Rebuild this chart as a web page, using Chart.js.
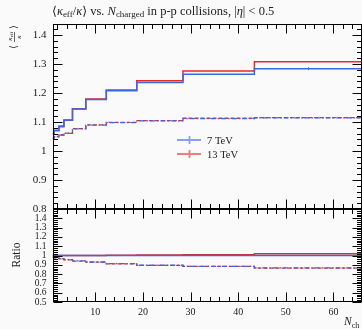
<!DOCTYPE html>
<html>
<head>
<meta charset="utf-8">
<script src="https://cdn.jsdelivr.net/npm/chart.js@4.4.0/dist/chart.umd.min.js"></script>
<style>
  html, body { margin: 0; padding: 0; background: #fafafa; }
  #wrap { position: relative; width: 362px; height: 329px; overflow: hidden; }
  canvas { position: absolute; left: 0; }
  #mainChart { top: 0; }
  #ratioChart { top: 205px; }
</style>
</head>
<body>
<div id="wrap">
  <canvas id="mainChart" width="362" height="222"></canvas>
  <canvas id="ratioChart" width="362" height="124"></canvas>
</div>
<script>
// Bin edges in N_ch
const binEdges = [1, 1.3, 2.35, 3.4, 5.2, 8.0, 12.3, 18.7, 28.4, 43.4, 66];

// <kappa_eff/kappa> per bin
const red13Solid  = [1.061, 1.072, 1.086, 1.107, 1.146, 1.179, 1.210, 1.242, 1.276, 1.308];
const blue7Solid  = [1.058, 1.070, 1.084, 1.106, 1.145, 1.178, 1.208, 1.236, 1.265, 1.284];
const red13Dashed = [1.044, 1.050, 1.056, 1.062, 1.077, 1.090, 1.099, 1.105, 1.113, 1.115];
const blue7Dashed = [1.042, 1.049, 1.055, 1.061, 1.076, 1.089, 1.098, 1.104, 1.112, 1.114];
const blue7Err    = [0, 0, 0, 0, 0, 0, 0, 0, 0, 0.005];

// Ratio panel
const ratioBlueSolid  = [1, 1, 1, 1, 1, 1, 1, 1, 1, 1];
const ratioRedSolid   = [1, 1, 1, 1, 1, 1.001, 1.002, 1.005, 1.009, 1.019];
const ratioRedDashed  = [0.983, 0.975, 0.965, 0.954, 0.940, 0.929, 0.910, 0.893, 0.882, 0.865];
const ratioBlueDashed = [0.983, 0.977, 0.967, 0.956, 0.942, 0.930, 0.912, 0.895, 0.883, 0.867];

// Tick labels
const xTicks = [10, 20, 30, 40, 50, 60];
const mainYTicks = [0.8, 0.9, 1.0, 1.1, 1.2, 1.3, 1.4];
const ratioYTicks = [0.5, 0.6, 0.7, 0.8, 0.9, 1.0, 1.1, 1.2, 1.3, 1.4];

const BLUE = '#3b66e4';
const RED = '#ea2920';
const SERIF = "'Liberation Serif', 'DejaVu Serif', serif";

Chart.defaults.font.family = SERIF;
Chart.defaults.color = '#222';

// turn per-bin values into step points
function steps(vals) {
    return binEdges.map((e, i) => ({ x: e, y: vals[Math.min(i, vals.length - 1)] }));
}

function fmt(v) {
    return String(+v.toFixed(2));
}

function stepSet(label, vals, color, dash, width) {
    return {
        label: label,
        data: steps(vals),
        borderColor: color,
        borderWidth: width,
        borderDash: dash,
        stepped: 'before',
        pointRadius: 0,
        pointHoverRadius: 0,
        fill: false
    };
}

// list of values from a to b with a given step
function range(a, b, step) {
    const out = [];
    const n = Math.round((b - a) / step);
    for (let k = 0; k <= n; k++) out.push(+(a + k * step).toFixed(4));
    return out;
}

// draws frame + inward ticks on all four sides
const framePlugin = {
    id: 'frame',
    afterDatasetsDraw(chart, args, o) {
        const { ctx, chartArea: a, scales: { x, y } } = chart;
        const line = (x1, y1, x2, y2) => {
            ctx.beginPath();
            ctx.moveTo(x1, y1);
            ctx.lineTo(x2, y2);
            ctx.stroke();
        };
        ctx.save();
        ctx.strokeStyle = '#000';
        ctx.lineWidth = 1;
        const L = Math.round(a.left) + 0.5, R = Math.round(a.right) - 0.5;
        const T = Math.round(a.top) + 0.5, B = Math.round(a.bottom) - 0.5;
        ctx.strokeRect(L, T, R - L, B - T);

        // x ticks
        range(2, 66, 2).forEach(v => {
            if (v < x.min || v > x.max) return;
            const px = Math.round(x.getPixelForValue(v)) + 0.5;
            const len = v % 10 === 0 ? 9 : 4.5;
            line(px, T, px, T + len);
            line(px, B, px, B - len);
        });
        // y ticks
        range(o.yMin, o.yMax, 0.02).forEach(v => {
            if (v < y.min - 1e-6 || v > y.max + 1e-6) return;
            const py = Math.round(y.getPixelForValue(v)) + 0.5;
            const major = Math.abs(v * 10 - Math.round(v * 10)) < 1e-6;
            const len = major ? 9 : 4.5;
            line(L, py, L + len, py);
            line(R, py, R - len, py);
        });
        ctx.restore();
    }
};

// draws text pieces left to right
function drawRich(ctx, x, y, parts) {
    parts.forEach(p => {
        ctx.font = p.font;
        ctx.fillText(p.t, x, y + (p.dy || 0));
        x += ctx.measureText(p.t).width;
    });
}

const mainDecor = {
    id: 'mainDecor',
    afterDraw(chart) {
        const { ctx, scales: { x, y } } = chart;
        ctx.save();
        ctx.fillStyle = '#222';
        ctx.textBaseline = 'alphabetic';
        ctx.textAlign = 'left';
        const n = '12.5px ' + SERIF, it = 'italic 12.5px ' + SERIF, sub = '9px ' + SERIF;
        drawRich(ctx, 52, 15, [
            { t: '\u27e8', font: n }, { t: '\u03ba', font: it }, { t: 'eff', font: sub, dy: 2 },
            { t: '/', font: n }, { t: '\u03ba', font: it }, { t: '\u27e9 vs. ', font: n },
            { t: 'N', font: it }, { t: 'charged', font: sub, dy: 2 },
            { t: ' in p-p collisions, |', font: n }, { t: '\u03b7', font: it }, { t: '| < 0.5', font: n }
        ]);

        // rotated y title: <kappa_eff / kappa>
        ctx.translate(14, 37);
        ctx.rotate(-Math.PI / 2);
        ctx.textAlign = 'center';
        ctx.font = '10px ' + SERIF;
        ctx.fillText('\u27e8', -10, 3);
        ctx.fillText('\u27e9', 10, 3);
        ctx.font = 'italic 7px ' + SERIF;
        ctx.fillText('\u03ba', -2, -2);
        ctx.font = '5px ' + SERIF;
        ctx.fillText('eff', 2.5, -1);
        ctx.font = 'italic 7px ' + SERIF;
        ctx.fillText('\u03ba', 0, 6.5);
        ctx.fillRect(-5, 0, 10, 0.7);
        ctx.setTransform(1, 0, 0, 1, 0, 0);
        ctx.textAlign = 'left';

        // error bars at bin centres
        ctx.strokeStyle = BLUE;
        ctx.lineWidth = 1;
        blue7Err.forEach((e, i) => {
            if (!e) return;
            const px = Math.round(x.getPixelForValue((binEdges[i] + binEdges[i + 1]) / 2)) + 0.5;
            ctx.beginPath();
            ctx.moveTo(px, y.getPixelForValue(blue7Solid[i] - e));
            ctx.lineTo(px, y.getPixelForValue(blue7Solid[i] + e));
            ctx.stroke();
        });

        // legend
        const items = [
            { label: '7 TeV', color: 'rgba(59,102,228,0.6)', y: 140 },
            { label: '13 TeV', color: 'rgba(234,41,32,0.6)', y: 154 }
        ];
        items.forEach(it2 => {
            ctx.strokeStyle = it2.color;
            ctx.lineWidth = 1.8;
            ctx.beginPath();
            ctx.moveTo(177, it2.y); ctx.lineTo(201, it2.y);
            ctx.moveTo(189.5, it2.y - 4); ctx.lineTo(189.5, it2.y + 4);
            ctx.stroke();
            ctx.fillStyle = '#222';
            ctx.font = '10.5px ' + SERIF;
            ctx.fillText(it2.label, 207, it2.y + 4);
        });
        ctx.restore();
    }
};

const ratioDecor = {
    id: 'ratioDecor',
    afterDraw(chart) {
        const { ctx } = chart;
        ctx.save();
        ctx.fillStyle = '#222';
        ctx.translate(20, 50);
        ctx.rotate(-Math.PI / 2);
        ctx.textAlign = 'center';
        ctx.font = '11.5px ' + SERIF;
        ctx.fillText('Ratio', 0, 0);
        ctx.setTransform(1, 0, 0, 1, 0, 0);
        ctx.textAlign = 'left';
        drawRich(ctx, 344, 120, [
            { t: 'N', font: 'italic 11.5px ' + SERIF },
            { t: 'ch', font: '8px ' + SERIF, dy: 3 }
        ]);
        ctx.restore();
    }
};

function yScale(min, max, ticks, size) {
    return {
        type: 'linear',
        min: min,
        max: max,
        afterFit: s => { s.width = 52.5; s.paddingTop = 0; s.paddingBottom = 0; },
        afterBuildTicks: s => { s.ticks = ticks.map(v => ({ value: v })); },
        ticks: { padding: 6, autoSkip: false, font: { size: size }, color: '#222', callback: v => fmt(v) },
        grid: { display: false, drawTicks: false },
        border: { display: false }
    };
}

new Chart(document.getElementById('mainChart'), {
    type: 'line',
    data: {
        datasets: [
            stepSet('7 TeV', blue7Solid, BLUE, [], 1.5),
            stepSet('13 TeV', red13Solid, RED, [], 1.5),
            stepSet('7 TeV alt', blue7Dashed, BLUE, [5, 2, 1.5, 2], 1.3),
            stepSet('13 TeV alt', red13Dashed, RED, [4, 2], 1.3)
        ]
    },
    options: {
        responsive: false,
        animation: false,
        layout: { padding: { top: 24, bottom: 13, left: 0, right: 0 } },
        plugins: {
            legend: { display: false },
            tooltip: { enabled: false },
            frame: { yMin: 0.8, yMax: 1.44 }
        },
        scales: {
            x: { type: 'linear', min: 1, max: 66, display: false },
            y: yScale(0.8, 1.438, mainYTicks, 11)
        }
    },
    plugins: [mainDecor, framePlugin]
});

new Chart(document.getElementById('ratioChart'), {
    type: 'line',
    data: {
        datasets: [
            stepSet('7 TeV', ratioBlueSolid, BLUE, [], 1.5),
            stepSet('13 TeV', ratioRedSolid, RED, [], 1.5),
            stepSet('7 TeV alt', ratioBlueDashed, BLUE, [5, 2, 1.5, 2], 1.3),
            stepSet('13 TeV alt', ratioRedDashed, RED, [4, 2], 1.3)
        ]
    },
    options: {
        responsive: false,
        animation: false,
        layout: { padding: { top: 4, bottom: 0, left: 0, right: 0 } },
        plugins: {
            legend: { display: false },
            tooltip: { enabled: false },
            frame: { yMin: 0.5, yMax: 1.5 }
        },
        scales: {
            x: {
                type: 'linear',
                min: 1,
                max: 66,
                afterFit: s => { s.height = 27; s.paddingLeft = 0; s.paddingRight = 0; },
                afterBuildTicks: s => { s.ticks = xTicks.map(v => ({ value: v })); },
                ticks: { padding: 4, autoSkip: false, maxRotation: 0, font: { size: 10 }, color: '#222' },
                grid: { display: false, drawTicks: false },
                border: { display: false }
            },
            y: yScale(0.5, 1.5, ratioYTicks, 9.5)
        }
    },
    plugins: [ratioDecor, framePlugin]
});
</script>
</body>
</html>
